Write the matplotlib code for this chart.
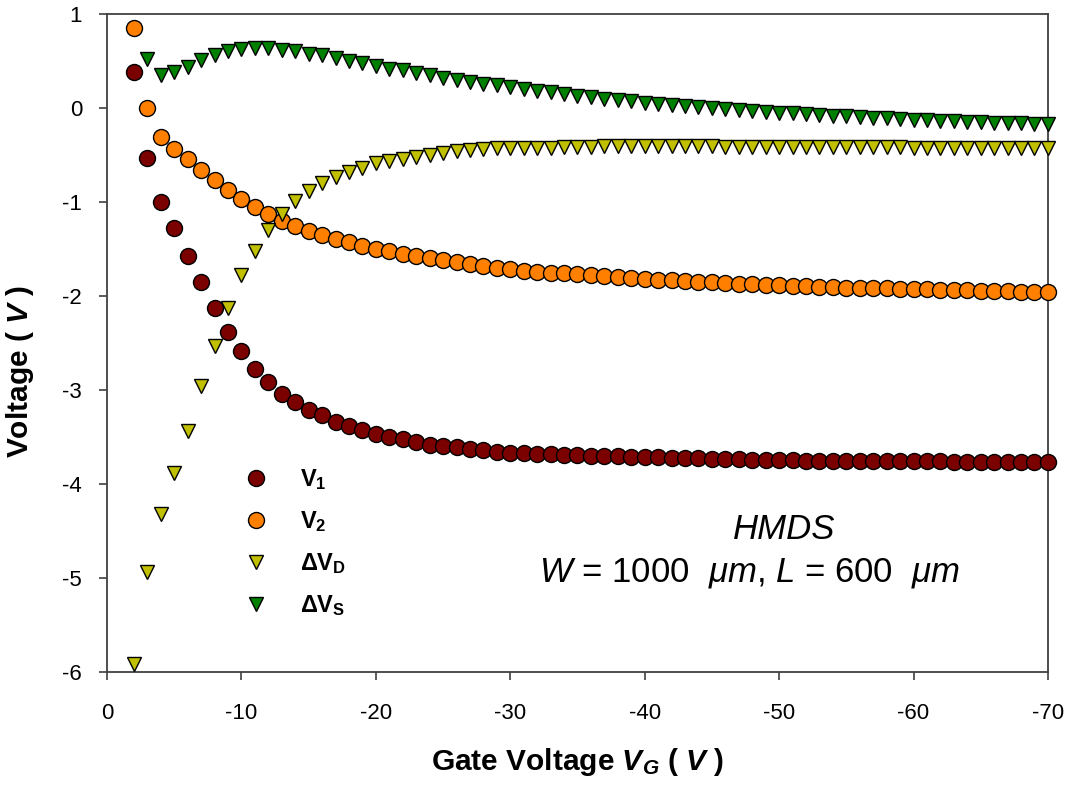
import matplotlib
matplotlib.use("Agg")
import matplotlib.pyplot as plt
from matplotlib.lines import Line2D

plt.rcParams["font.family"] = ["Liberation Sans", "DejaVu Sans"]
plt.rcParams["axes.unicode_minus"] = False
plt.rcParams["mathtext.fontset"] = "custom"
plt.rcParams["mathtext.rm"] = "Liberation Sans"
plt.rcParams["mathtext.it"] = "Liberation Sans:italic"
plt.rcParams["mathtext.bf"] = "Liberation Sans:bold"
plt.rcParams["mathtext.bfit"] = "Liberation Sans:italic:bold"

# gate voltage steps (V), V1 / V2 / dVD start at -2, dVS at -3
vg = [-v for v in range(2, 71)]
vg_s = [-v for v in range(3, 71)]

v1 = [0.38, -0.53, -1.00, -1.28, -1.57, -1.85, -2.13, -2.38, -2.59, -2.78,
      -2.92, -3.04, -3.13, -3.21, -3.27, -3.34, -3.38, -3.43, -3.47, -3.50,
      -3.52, -3.55, -3.58, -3.60, -3.61, -3.63, -3.64, -3.66, -3.67, -3.67,
      -3.68, -3.68, -3.69, -3.69, -3.70, -3.70, -3.70, -3.71, -3.71, -3.71,
      -3.72, -3.72, -3.72, -3.73, -3.73, -3.73, -3.74, -3.74, -3.74, -3.74,
      -3.75, -3.75, -3.75, -3.75, -3.75, -3.76, -3.76, -3.76, -3.76, -3.76,
      -3.76, -3.77, -3.77, -3.77, -3.77, -3.77, -3.77, -3.77, -3.77]

v2 = [0.85, 0.00, -0.31, -0.44, -0.54, -0.66, -0.77, -0.87, -0.97, -1.05,
      -1.13, -1.20, -1.26, -1.31, -1.35, -1.39, -1.43, -1.47, -1.50, -1.52,
      -1.55, -1.57, -1.60, -1.62, -1.64, -1.66, -1.68, -1.70, -1.71, -1.73,
      -1.74, -1.75, -1.76, -1.77, -1.78, -1.79, -1.80, -1.81, -1.82, -1.83,
      -1.83, -1.84, -1.85, -1.85, -1.86, -1.87, -1.87, -1.88, -1.88, -1.89,
      -1.89, -1.90, -1.90, -1.91, -1.91, -1.92, -1.92, -1.93, -1.93, -1.93,
      -1.94, -1.94, -1.94, -1.95, -1.95, -1.95, -1.96, -1.96, -1.96]

dvd = [-5.91, -4.94, -4.32, -3.88, -3.44, -2.96, -2.53, -2.13, -1.78, -1.52,
       -1.30, -1.13, -0.99, -0.88, -0.80, -0.73, -0.68, -0.64, -0.59, -0.56,
       -0.54, -0.52, -0.50, -0.48, -0.46, -0.45, -0.44, -0.43, -0.43, -0.42,
       -0.42, -0.42, -0.41, -0.41, -0.41, -0.40, -0.40, -0.40, -0.40, -0.40,
       -0.40, -0.40, -0.40, -0.40, -0.41, -0.41, -0.41, -0.41, -0.41, -0.41,
       -0.41, -0.41, -0.41, -0.41, -0.41, -0.41, -0.41, -0.41, -0.42, -0.42,
       -0.42, -0.42, -0.42, -0.42, -0.42, -0.43, -0.43, -0.43, -0.43]

dvs = [0.52, 0.35, 0.38, 0.44, 0.51, 0.56, 0.61, 0.63, 0.64, 0.635,
       0.62, 0.61, 0.58, 0.56, 0.53, 0.50, 0.48, 0.45, 0.42, 0.40,
       0.37, 0.35, 0.32, 0.30, 0.28, 0.255, 0.24, 0.22, 0.20, 0.18,
       0.17, 0.15, 0.13, 0.114, 0.10, 0.085, 0.07, 0.056, 0.046, 0.035,
       0.02, 0.014, -0.003, -0.014, -0.02, -0.03, -0.04, -0.05, -0.056, -0.067,
       -0.074, -0.08, -0.09, -0.10, -0.106, -0.11, -0.12, -0.128, -0.13, -0.138,
       -0.14, -0.149, -0.15, -0.156, -0.16, -0.163, -0.167, -0.17]

xticks = [0, -10, -20, -30, -40, -50, -60, -70]
yticks = [1, 0, -1, -2, -3, -4, -5, -6]

series = [
    (vg, v1, "o", "#7b0000", r"$\mathbf{V}_\mathbf{1}$"),
    (vg, v2, "o", "#ff8000", r"$\mathbf{V}_\mathbf{2}$"),
    (vg, dvd, "v", "#c0c000", r"$\mathbf{\Delta V}_\mathbf{D}$"),
    (vg_s, dvs, "v", "#008000", r"$\mathbf{\Delta V}_\mathbf{S}$"),
]

fig = plt.figure(figsize=(10.77, 7.93), dpi=100)
ax = fig.add_axes([0.0994, 0.1526, 0.8736, 0.8297])

handles = []
for x, y, mk, col, lab in series:
    ms = 11.5 if mk == "o" else 10.5
    ax.plot(x, y, ls="none", marker=mk, ms=ms, mfc=col, mec="black",
            mew=1.0, clip_on=False, zorder=3)
    handles.append(Line2D([], [], ls="none", marker=mk, ms=ms, mfc=col,
                          mec="black", mew=1.0, label=lab))

ax.set_xlim(0, -70)
ax.set_ylim(-6, 1)
ax.set_xticks(xticks)
ax.set_xticklabels([str(t) for t in xticks])
ax.set_yticks(yticks)
ax.set_yticklabels([str(t) for t in yticks])

for sp in ax.spines.values():
    sp.set_color("#404040")
    sp.set_linewidth(1.3)
ax.tick_params(direction="out", length=6, width=1.2, color="#404040",
               labelsize=16)
ax.tick_params(axis="x", pad=16)
ax.tick_params(axis="y", pad=12)

ax.set_xlabel(r"Gate Voltage $\mathbfit{V}_\mathbfit{G}$ ( $\mathbfit{V}$ )",
              fontsize=21.5, fontweight="bold")
ax.xaxis.set_label_coords(0.5, -0.149)
ax.xaxis.label.set_va("baseline")
ax.set_ylabel(r"Voltage ( $\mathbfit{V}$ )", fontsize=21.5, fontweight="bold")
ax.yaxis.set_label_coords(-0.0925, 0.456)
ax.yaxis.label.set_va("center")

ax.legend(handles=handles, loc="center left", bbox_to_anchor=(0.1458, 0.197),
          frameon=False, fontsize=17, handlelength=1.0, handletextpad=1.36,
          labelspacing=0.72, borderpad=0, borderaxespad=0)

ax.text(0.7195, 0.202, "HMDS", transform=ax.transAxes, fontsize=25,
        style="italic", ha="center", va="baseline")
ax.text(0.683, 0.137, r"$W$ = 1000  $\mu m$, $L$ = 600  $\mu m$",
        transform=ax.transAxes, fontsize=25, ha="center", va="baseline")

fig.savefig("out.png", dpi=100)
